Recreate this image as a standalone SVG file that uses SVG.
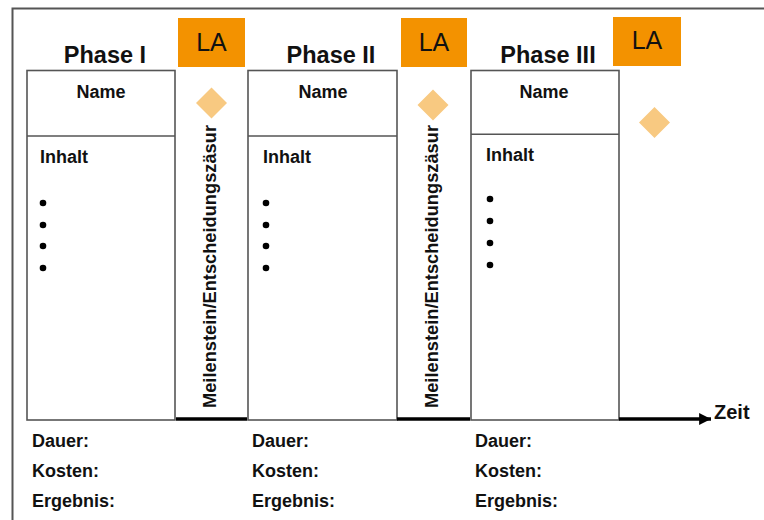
<svg xmlns="http://www.w3.org/2000/svg" width="764" height="520" viewBox="0 0 764 520">
<style>
text{font-family:"Liberation Sans",Arial,sans-serif;fill:#111}
.h{font-size:23.5px;font-weight:bold;text-anchor:middle}
.la{font-size:25px;text-anchor:middle}
.n{font-size:18px;font-weight:bold;text-anchor:middle}
.t{font-size:18px;font-weight:bold}
.z{font-size:20px;font-weight:bold}
.v{font-size:18px;font-weight:bold}
.box{fill:#fff;stroke:#555;stroke-width:1.6}
.lab{fill:#F39200}
.dia{fill:#F8C981}
.thick{stroke:#000;stroke-width:3.5;fill:none}
</style>
<defs>
<marker id="ah" viewBox="0 0 10 10" refX="10" refY="5" markerWidth="3.6" markerHeight="3.4" markerUnits="strokeWidth" orient="auto"><path d="M0,0L10,5L0,10z" fill="#000"/></marker>
</defs>
<rect width="764" height="520" fill="#fff"/>
<path d="M12.5,520V8.5H764" fill="none" stroke="#555" stroke-width="2"/>

<g id="phase1">
<text class="h" x="105" y="63">Phase I</text>
<rect class="box" x="27" y="70.5" width="148" height="349.5"/>
<line x1="27" y1="136" x2="175" y2="136" stroke="#555" stroke-width="1.6"/>
<text class="n" x="101" y="98">Name</text>
<text class="t" x="40" y="163">Inhalt</text>
<circle cx="43" cy="203" r="3.3"/><circle cx="43" cy="225" r="3.3"/><circle cx="43" cy="246" r="3.3"/><circle cx="43" cy="268" r="3.3"/>
<text class="t" x="32" y="447">Dauer:</text>
<text class="t" x="32" y="477">Kosten:</text>
<text class="t" x="32" y="507">Ergebnis:</text>
</g>

<g id="phase2">
<text class="h" x="331" y="63">Phase II</text>
<rect class="box" x="248" y="70.5" width="149" height="349.5"/>
<line x1="248" y1="136" x2="397" y2="136" stroke="#555" stroke-width="1.6"/>
<text class="n" x="323" y="98">Name</text>
<text class="t" x="263" y="163">Inhalt</text>
<circle cx="266" cy="203" r="3.3"/><circle cx="266" cy="225" r="3.3"/><circle cx="266" cy="246" r="3.3"/><circle cx="266" cy="268" r="3.3"/>
<text class="t" x="252" y="447">Dauer:</text>
<text class="t" x="252" y="477">Kosten:</text>
<text class="t" x="252" y="507">Ergebnis:</text>
</g>

<g id="phase3">
<text class="h" x="548" y="63">Phase III</text>
<rect class="box" x="471" y="70.5" width="148" height="349.5"/>
<line x1="471" y1="134.3" x2="619" y2="134.3" stroke="#555" stroke-width="1.6"/>
<text class="n" x="544" y="98">Name</text>
<text class="t" x="486" y="161">Inhalt</text>
<circle cx="490" cy="199" r="3.3"/><circle cx="490" cy="221" r="3.3"/><circle cx="490" cy="243" r="3.3"/><circle cx="490" cy="265" r="3.3"/>
<text class="t" x="475" y="447">Dauer:</text>
<text class="t" x="475" y="477">Kosten:</text>
<text class="t" x="475" y="507">Ergebnis:</text>
</g>

<g id="milestone1">
<rect class="lab" x="178" y="18" width="67" height="49"/>
<text class="la" x="211.5" y="51">LA</text>
<path class="dia" d="M211.5,87.5L227,103L211.5,118.5L196,103z"/>
<text class="v" transform="translate(216,408) rotate(-90)" textLength="283" lengthAdjust="spacingAndGlyphs">Meilenstein/Entscheidungszäsur</text>
</g>

<g id="milestone2">
<rect class="lab" x="401" y="18" width="66" height="49"/>
<text class="la" x="434" y="51">LA</text>
<path class="dia" d="M433,89.5L448.5,105L433,120.5L417.5,105z"/>
<text class="v" transform="translate(438,408) rotate(-90)" textLength="283" lengthAdjust="spacingAndGlyphs">Meilenstein/Entscheidungszäsur</text>
</g>

<g id="milestone3">
<rect class="lab" x="613" y="17" width="68" height="49"/>
<text class="la" x="647" y="49">LA</text>
<path class="dia" d="M654.5,107L670,122.5L654.5,138L639,122.5z"/>
</g>

<g id="connectors">
<line class="thick" x1="176" y1="419" x2="247" y2="419"/>
<line class="thick" x1="397" y1="419" x2="470" y2="419"/>
<line class="thick" x1="619" y1="419" x2="711" y2="419" marker-end="url(#ah)"/>
</g>
<text class="z" x="714" y="419">Zeit</text>
</svg>
